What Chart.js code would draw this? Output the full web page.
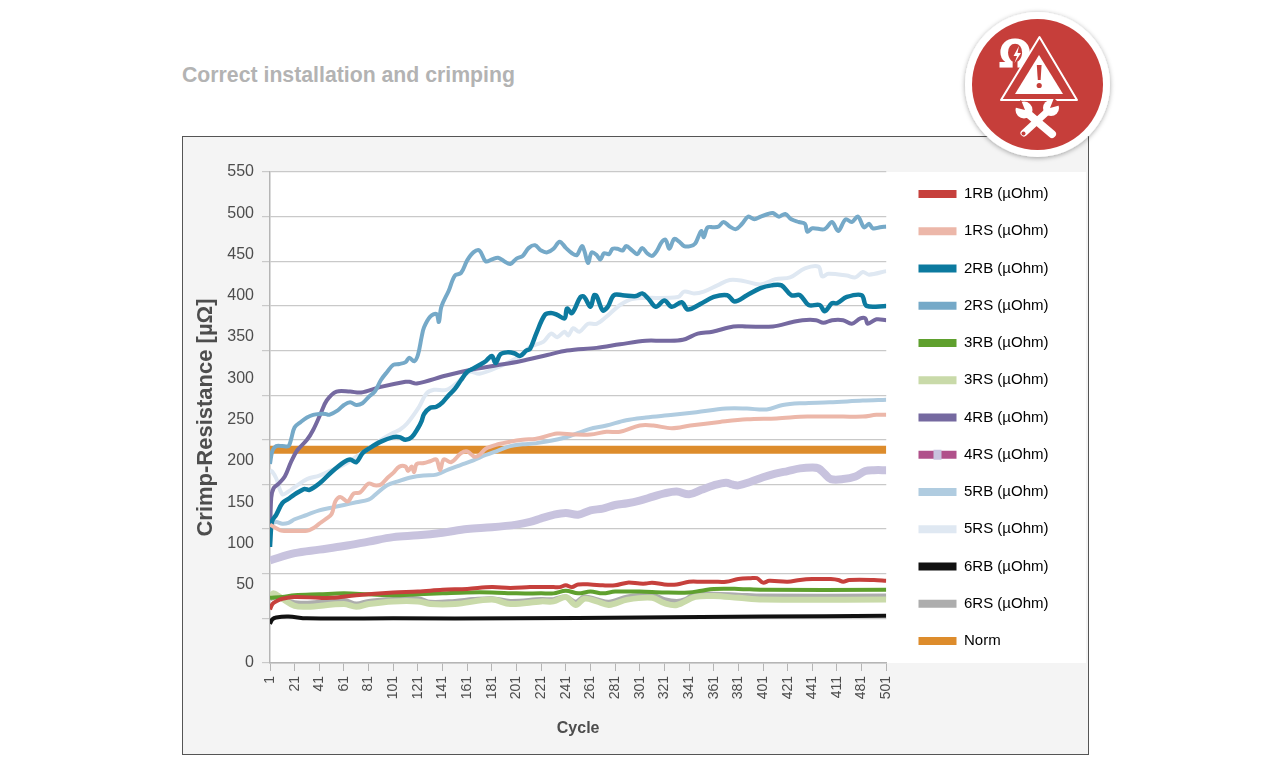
<!DOCTYPE html>
<html>
<head>
<meta charset="utf-8">
<title>Correct installation and crimping</title>
<script src="https://cdn.jsdelivr.net/npm/chart.js@4/dist/chart.umd.min.js"></script>
<style>
  body { margin: 0; background: #fff; overflow: hidden; font-family: "Liberation Sans", sans-serif; }
  #heading { position: absolute; left: 182px; top: 63px; margin: 0; font-size: 21.25px; font-weight: bold; color: #b3b3b3; }
  #frame { position: absolute; left: 182px; top: 136px; width: 905px; height: 617px; border: 1.5px solid #555; background: #f4f4f4; }
  #myChart { position: absolute; left: 0; top: 0; }
  #badge { position: absolute; left: 950px; top: 0; }
</style>
</head>
<body>
<h1 id="heading">Correct installation and crimping</h1>
<div id="frame"></div>
<canvas id="myChart" width="1280" height="758"></canvas>

<svg id="badge" width="175" height="175" viewBox="950 0 175 175">
  <defs>
    <filter id="soft" x="-20%" y="-20%" width="140%" height="140%">
      <feDropShadow dx="0" dy="1" stdDeviation="2.5" flood-color="#000" flood-opacity="0.35"/>
    </filter>
  </defs>
  <circle cx="1037.5" cy="84.5" r="72.5" fill="#fff" filter="url(#soft)"/>
  <circle cx="1037.5" cy="84.5" r="65.5" fill="#c63e3a"/>
  <!-- omega with bolt -->
  <text x="1015" y="68" text-anchor="middle" font-family="DejaVu Sans" font-weight="bold" font-size="39" fill="#fff">Ω</text>
  <path d="M1019 46 L1013.5 56 L1017 56 L1014.5 63 L1021 53 L1017.5 53 Z" fill="#fff"/>
  <!-- warning triangle -->
  <path d="M1039.5 37 L1077 100 L1001 100 Z" fill="#c63e3a" stroke="#fff" stroke-width="2" stroke-linejoin="round"/>
  <path d="M1039 55 L1063 94 L1015 94 Z" fill="#fff"/>
  <path d="M1036.8 65 L1041.6 65 L1040.6 80 L1037.8 80 Z" fill="#c63e3a"/>
  <circle cx="1039.2" cy="85.5" r="2.6" fill="#c63e3a"/>
  <!-- crossed tools -->
  <g stroke="#fff" stroke-linecap="round" fill="none">
    <path d="M1024 133 L1049 110" stroke-width="7"/>
    <path d="M1026 112 L1052 134" stroke-width="8"/>
  </g>
  <circle cx="1023.5" cy="133.5" r="2" fill="#c63e3a"/>
  <circle cx="1051" cy="108" r="8" fill="#fff"/>
  <path d="M1050 108 L1054 98 L1061 105 Z" fill="#c63e3a"/>
  <circle cx="1024" cy="110" r="8.5" fill="#fff"/>
  <path d="M1025 110 L1021 100 L1013 107 Z" fill="#c63e3a"/>
</svg>

<script>
// y axis
const yTickLabels = ['0', '50', '100', '150', '200', '250', '300', '350', '400', '450', '500', '550'];
// x axis, the reference prints 411 where 461 belongs
const xTickLabels = ['1', '21', '41', '61', '81', '101', '121', '141', '161', '181', '201', '221', '241',
  '261', '281', '301', '321', '341', '361', '381', '401', '421', '441', '411', '481', '501'];

const seriesNames = ['1RB (µOhm)', '1RS (µOhm)', '2RB (µOhm)', '2RS (µOhm)', '3RB (µOhm)', '3RS (µOhm)',
  '4RB (µOhm)', '4RS (µOhm)', '5RB (µOhm)', '5RS (µOhm)', '6RB (µOhm)', '6RS (µOhm)', 'Norm'];

const cycles1RB = [1, 3, 6, 11, 21, 41, 51, 71, 101, 121, 141, 161, 181, 196, 212, 221, 231, 236, 241, 246,
  251, 261, 271, 281, 291, 301, 306, 311, 321, 331, 341, 351, 361, 371, 381, 391, 396, 401, 406, 421,
  431, 441, 451, 456, 462, 466, 471, 491, 501];
const values1RB = [60, 66, 69, 72, 74, 73, 73, 76, 79, 80, 82, 83, 85, 84, 85, 85, 85, 85, 87, 85,
  88, 88, 87, 87, 90, 89, 89, 90, 88, 88, 91, 91, 91, 91, 94, 95, 95, 90, 92, 91,
  93, 94, 94, 94, 93, 91, 93, 93, 92];

const cycles1RS = [1, 6, 11, 21, 31, 36, 41, 46, 51, 54, 58, 64, 69, 74, 81, 86, 91, 96, 101, 106,
  111, 113, 116, 118, 120, 126, 131, 136, 139, 142, 148, 156, 161, 167, 171, 176, 186, 196, 206, 216,
  220, 234, 247, 261, 274, 285, 301, 312, 327, 342, 366, 388, 412, 437, 466, 482, 493, 501];
const values1RS = [155, 151, 148, 148, 148, 151, 156, 161, 167, 181, 186, 181, 190, 191, 201, 199, 200, 207, 213, 220,
  220, 215, 220, 214, 223, 224, 226, 228, 216, 228, 225, 235, 237, 231, 233, 240, 245, 248, 250, 251,
  252, 257, 256, 256, 259, 259, 266, 266, 263, 266, 270, 273, 274, 276, 276, 276, 278, 278];

const cycles2RB = [1, 2, 3, 6, 11, 16, 21, 26, 29, 33, 41, 51, 61, 66, 71, 76, 81, 91, 101, 106,
  111, 116, 121, 124, 126, 131, 136, 141, 146, 151, 156, 161, 166, 171, 176, 181, 184, 188, 194, 199,
  204, 209, 212, 217, 224, 229, 234, 240, 242, 246, 253, 256, 261, 264, 266, 271, 275, 280, 287, 298,
  303, 308, 314, 321, 327, 335, 340, 350, 361, 372, 378, 388, 399, 408, 416, 424, 431, 438, 447, 451,
  457, 461, 469, 481, 485, 501];
const values2RB = [130, 153, 160, 166, 179, 184, 189, 193, 195, 194, 201, 214, 225, 228, 225, 235, 240, 248, 253, 253,
  250, 253, 263, 271, 279, 286, 287, 292, 300, 307, 317, 326, 330, 334, 338, 344, 336, 346, 348, 347,
  344, 350, 352, 369, 390, 392, 390, 386, 397, 392, 410, 410, 399, 412, 411, 395, 399, 412, 412, 411,
  414, 408, 399, 406, 399, 404, 396, 402, 410, 412, 405, 412, 420, 423, 423, 412, 412, 401, 401, 394,
  403, 403, 410, 412, 400, 400];

const cycles2RS = [1, 3, 6, 11, 16, 18, 21, 26, 31, 36, 41, 46, 49, 56, 61, 66, 71, 76, 81, 86,
  91, 96, 101, 106, 111, 114, 118, 121, 124, 126, 131, 136, 138, 140, 146, 151, 156, 161, 166, 171,
  176, 181, 186, 191, 196, 201, 206, 211, 216, 221, 226, 231, 236, 241, 246, 250, 254, 256, 259, 262,
  266, 269, 272, 276, 279, 283, 287, 290, 295, 299, 303, 307, 311, 315, 319, 322, 325, 329, 333, 337,
  342, 346, 349, 351, 353, 356, 361, 365, 369, 374, 379, 384, 389, 394, 399, 405, 409, 414, 419, 424,
  430, 435, 437, 441, 451, 457, 462, 468, 473, 478, 483, 487, 490, 496, 501];
const values2RS = [223, 238, 243, 243, 243, 250, 264, 270, 275, 278, 279, 279, 278, 283, 289, 292, 289, 291, 298, 304,
  317, 326, 334, 335, 337, 342, 338, 345, 365, 376, 388, 391, 382, 399, 417, 434, 437, 451, 460, 462,
  450, 452, 454, 450, 447, 453, 456, 465, 468, 462, 460, 464, 472, 465, 459, 457, 467, 462, 448, 460,
  457, 452, 459, 458, 464, 464, 462, 467, 462, 458, 465, 459, 456, 462, 472, 474, 464, 475, 472, 467,
  467, 470, 479, 484, 477, 488, 488, 489, 494, 489, 486, 492, 500, 497, 500, 503, 504, 500, 503, 497,
  494, 492, 483, 487, 486, 494, 484, 497, 494, 500, 488, 492, 487, 488, 489];

const cycles3RB = [1, 11, 21, 41, 61, 81, 101, 121, 141, 161, 181, 201, 221, 231, 241, 251, 261, 271, 281, 301,
  321, 341, 351, 361, 381, 401, 501];
const values3RB = [73, 74, 76, 77, 78, 77, 76, 77, 78, 79, 79, 78, 78, 78, 81, 78, 80, 78, 80, 80,
  79, 79, 81, 83, 83, 82, 82];

const cycles3RS = [1, 4, 11, 21, 31, 61, 71, 81, 101, 121, 131, 151, 181, 196, 221, 231, 241, 249, 256, 266,
  276, 291, 311, 321, 331, 346, 361, 381, 401, 501];
const values3RS = [73, 78, 72, 64, 63, 66, 63, 66, 69, 69, 66, 66, 71, 66, 69, 69, 74, 65, 72, 69,
  65, 71, 73, 67, 65, 74, 75, 73, 71, 71];

const cycles4RB = [1, 2, 4, 8, 13, 18, 23, 31, 36, 42, 47, 55, 66, 75, 90, 111, 114, 120, 144, 166,
  183, 204, 226, 242, 266, 285, 306, 320, 336, 348, 360, 377, 388, 409, 425, 433, 444, 450, 457, 466,
  473, 480, 484, 486, 493, 501];
const values4RB = [134, 185, 196, 201, 209, 225, 238, 250, 261, 279, 294, 304, 304, 303, 309, 315, 315, 313, 322, 329,
  333, 338, 345, 350, 353, 357, 361, 361, 362, 369, 371, 377, 377, 377, 382, 384, 384, 381, 384, 384,
  380, 386, 386, 380, 385, 384];

const cycles4RS = [1, 21, 41, 61, 81, 101, 121, 141, 161, 181, 201, 212, 221, 231, 241, 251, 261, 271, 281, 291,
  301, 311, 321, 331, 341, 351, 361, 371, 376, 381, 391, 401, 411, 421, 431, 441, 446, 451, 456, 466,
  476, 484, 491, 501];
const values4RS = [115, 123, 127, 131, 136, 141, 143, 146, 150, 152, 155, 158, 162, 166, 168, 166, 171, 173, 177, 179,
  182, 186, 190, 192, 189, 194, 199, 202, 200, 199, 203, 208, 212, 215, 218, 219, 218, 212, 206, 206,
  209, 215, 216, 216];

const cycles5RB = [1, 6, 11, 16, 21, 31, 41, 51, 61, 71, 81, 86, 96, 106, 116, 126, 136, 146, 156, 166,
  176, 186, 196, 206, 216, 239, 260, 274, 290, 306, 328, 347, 371, 388, 404, 417, 433, 455, 482, 501];
const values5RB = [155, 158, 156, 157, 161, 166, 171, 174, 177, 180, 183, 188, 199, 204, 208, 210, 211, 217, 222, 227,
  233, 238, 243, 245, 246, 252, 262, 266, 272, 275, 278, 281, 285, 285, 284, 289, 291, 292, 294, 295];

const cycles5RS = [1, 3, 6, 11, 16, 21, 31, 41, 51, 61, 71, 81, 91, 101, 106, 112, 122, 128, 134, 144,
  152, 163, 171, 187, 203, 212, 223, 229, 234, 240, 243, 247, 252, 259, 266, 274, 285, 296, 332, 337,
  345, 353, 364, 374, 385, 399, 411, 423, 435, 446, 449, 454, 469, 476, 482, 487, 501];
const values5RS = [216, 214, 207, 189, 192, 197, 206, 210, 216, 222, 231, 240, 250, 258, 261, 268, 287, 302, 306, 306,
  313, 326, 324, 332, 343, 354, 360, 369, 365, 371, 367, 375, 371, 380, 380, 388, 401, 408, 410, 416,
  414, 416, 423, 429, 428, 424, 430, 432, 442, 444, 433, 436, 434, 432, 438, 435, 439];

const cycles6RB = [1, 3, 6, 16, 31, 101, 201, 301, 401, 501];
const values6RB = [44, 49, 51, 52, 50, 50, 50, 51, 52, 53];

const cycles6RS = [1, 6, 16, 26, 41, 61, 71, 81, 101, 121, 131, 151, 166, 181, 196, 221, 231, 241, 249, 256,
  266, 276, 291, 311, 321, 331, 338, 346, 361, 381, 401, 501];
const values6RS = [72, 74, 69, 67, 68, 70, 66, 69, 71, 72, 68, 69, 71, 72, 69, 71, 71, 74, 68, 74,
  71, 68, 74, 76, 71, 69, 71, 77, 77, 76, 75, 75];

const cyclesNorm = [1, 501];
const valuesNorm = [239, 239];

// 4RS has a magenta legend key but a lavender line in the picture
const lineColors = ['#c6403c', '#ecb7a9', '#0c7a9f', '#75a9c8', '#5fa02e', '#c9daa9',
  '#7569a0', '#c8c3de', '#b0cce0', '#dfe8f2', '#111111', '#adadad', '#dd8c2c'];
const legendColors = ['#c6403c', '#ecb7a9', '#0c7a9f', '#75a9c8', '#5fa02e', '#c9daa9',
  '#7569a0', '#b0508a', '#b0cce0', '#dfe8f2', '#111111', '#adadad', '#dd8c2c'];
const lineWidths = [4, 4, 4.5, 4, 4, 6, 4, 8, 4, 4, 4, 5, 8];

const allCycles = [cycles1RB, cycles1RS, cycles2RB, cycles2RS, cycles3RB, cycles3RS,
  cycles4RB, cycles4RS, cycles5RB, cycles5RS, cycles6RB, cycles6RS, cyclesNorm];
const allValues = [values1RB, values1RS, values2RB, values2RS, values3RB, values3RS,
  values4RB, values4RS, values5RB, values5RS, values6RB, values6RS, valuesNorm];

const textColor = '#4d4d4d';
const gridColor = '#c9c9c9';
const axisColor = '#b5b5b5';
const fontName = '"Liberation Sans", Arial, sans-serif';

// the printed y labels do not sit on the gridlines, 50 to 550 are squeezed and 0 drops to the bottom
const zeroLabelAt = -44.9;
const legendLeft = 896.25;
const legendTop = 164.25;
const legendPadding = 22.25;

const chartBackdrop = {
  id: 'chartBackdrop',
  afterLayout(chart) {
    chart.legend.left = legendLeft;
    chart.legend.top = legendTop;
  },
  beforeDraw(chart) {
    const area = chart.chartArea;
    const ctx = chart.ctx;
    ctx.save();
    ctx.fillStyle = '#fff';
    ctx.fillRect(area.left, area.top, 1086 - area.left, area.bottom - area.top);
    ctx.restore();
  },
  afterDraw(chart) {
    // small square in the 4RS legend key
    const ctx = chart.ctx;
    const x = legendLeft + legendPadding + 19;
    const y = legendTop + legendPadding + 7 * 37.25 + 7.5;
    ctx.save();
    ctx.fillStyle = lineColors[7];
    ctx.fillRect(x - 4, y - 5, 8, 10);
    ctx.restore();
  }
};

new Chart(document.getElementById('myChart'), {
  type: 'line',
  data: {
    datasets: seriesNames.map(function (name, i) {
      return {
        label: name,
        data: allCycles[i].map(function (c, j) { return { x: c, y: allValues[i][j] }; }),
        borderColor: lineColors[i],
        backgroundColor: legendColors[i],
        borderWidth: lineWidths[i],
        pointRadius: 0,
        fill: false,
        tension: 0.35,
        borderCapStyle: 'butt',
        borderJoinStyle: 'round'
      };
    })
  },
  options: {
    responsive: false,
    animation: false,
    layout: { padding: { left: 193, top: 172, right: 231.5, bottom: 0 } },
    plugins: {
      tooltip: { enabled: false },
      legend: {
        position: 'right',
        align: 'start',
        maxWidth: 300,
        labels: {
          boxWidth: 38,
          boxHeight: 8,
          padding: legendPadding,
          color: '#5a5a5a',
          font: { family: fontName, size: 15 },
          generateLabels: function (chart) {
            return chart.data.datasets.map(function (d, i) {
              return { text: d.label, fillStyle: legendColors[i], strokeStyle: 'transparent', lineWidth: 0, datasetIndex: i };
            });
          }
        }
      }
    },
    scales: {
      x: {
        type: 'linear',
        min: 1,
        max: 501,
        afterBuildTicks: function (scale) {
          scale.ticks = xTickLabels.map(function (l, i) { return { value: 1 + i * 20 }; });
        },
        afterFit: function (scale) { scale.height = 95; },
        grid: { drawOnChartArea: false, color: axisColor, tickLength: 8, lineWidth: 1 },
        border: { color: axisColor, width: 1.5 },
        ticks: {
          autoSkip: false,
          minRotation: 90,
          maxRotation: 90,
          padding: 5,
          color: textColor,
          font: { family: fontName, size: 14 },
          callback: function (value, i) { return xTickLabels[i]; }
        },
        title: {
          display: true,
          text: 'Cycle',
          color: textColor,
          padding: { top: 0, bottom: 19.4 },
          font: { family: fontName, size: 16, weight: 'bold' }
        }
      },
      y: {
        position: 'left',
        weight: 0,
        min: 0,
        max: 550,
        afterFit: function (scale) { scale.width = 8; },
        grid: { color: gridColor, tickLength: 8, lineWidth: 1.2 },
        border: { color: axisColor, width: 1.5 },
        ticks: { display: false, stepSize: 50 }
      },
      yLabels: {
        position: 'left',
        weight: 1,
        min: zeroLabelAt,
        max: 550,
        afterBuildTicks: function (scale) {
          scale.ticks = yTickLabels.map(function (l) { return { value: l === '0' ? zeroLabelAt : Number(l) }; });
        },
        afterFit: function (scale) { scale.width = 69; },
        grid: { display: false },
        border: { display: false },
        ticks: {
          autoSkip: false,
          padding: 0,
          color: textColor,
          font: { family: fontName, size: 16 },
          callback: function (value, i) { return yTickLabels[i]; }
        },
        title: {
          display: true,
          text: 'Crimp-Resistance [µΩ]',
          color: textColor,
          padding: { top: 0, bottom: 0 },
          font: { family: fontName, size: 22, weight: 'bold' }
        }
      }
    }
  },
  plugins: [chartBackdrop]
});
</script>
</body>
</html>
